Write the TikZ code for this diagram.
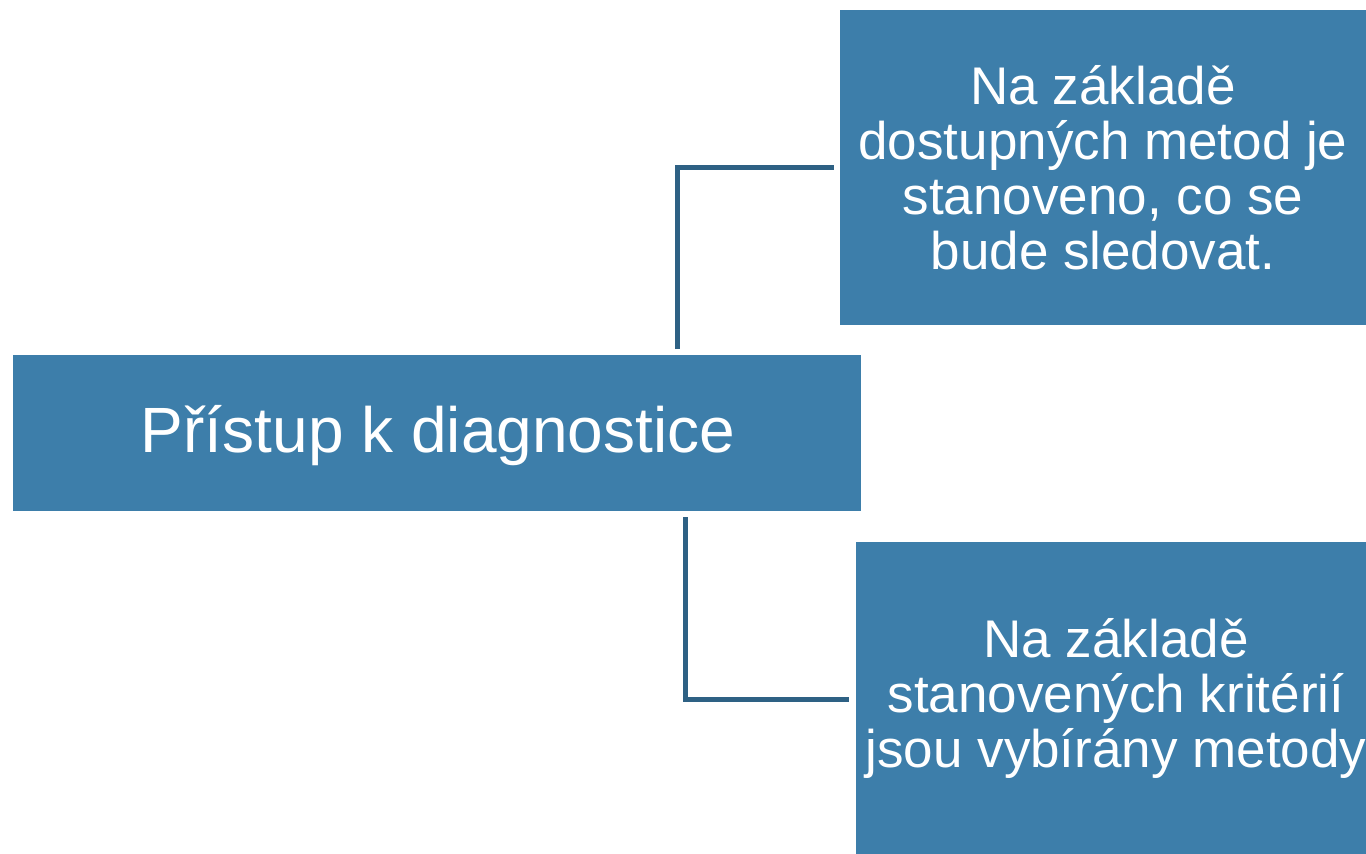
\documentclass[tikz,border=0pt]{standalone}
\usepackage{fontspec}
\setmainfont{Liberation Sans}
\definecolor{boxblue}{HTML}{3D7EAA}
\definecolor{lineblue}{HTML}{2E6184}
\begin{document}
\begin{tikzpicture}[x=1pt,y=-1pt,
  box/.style={fill=boxblue,draw=none,text=white,font=\fontsize{53}{55}\selectfont,align=center,inner sep=0pt},
  conn/.style={draw=lineblue,line width=5pt}]
\useasboundingbox (0,0) rectangle (1366,854);
\fill[white] (0,0) rectangle (1366,854);
\path[box] (13,355) rectangle (861,511);
\node[box,fill=none,font=\fontsize{64}{70}\selectfont] (main) at (438,436) {Přístup k diagnostice};
\path[box] (840,10) rectangle (1366,325);
\node[box,fill=none] (top) at (1103,168) {Na základě\\dostupných metod je\\stanoveno, co se\\bude sledovat.};
\path[box] (856,542) rectangle (1366,854);
\node[box,fill=none] (bot) at (1116,698) {Na základě\\stanovených kritérií\\jsou vybírány metody};
\coordinate (a1) at (677,349);
\coordinate (a2) at (834,167);
\coordinate (b1) at (685,517);
\coordinate (b2) at (849,699);
\draw[conn] (a1) |- (a2);
\draw[conn] (b1) |- (b2);
\end{tikzpicture}
\end{document}
